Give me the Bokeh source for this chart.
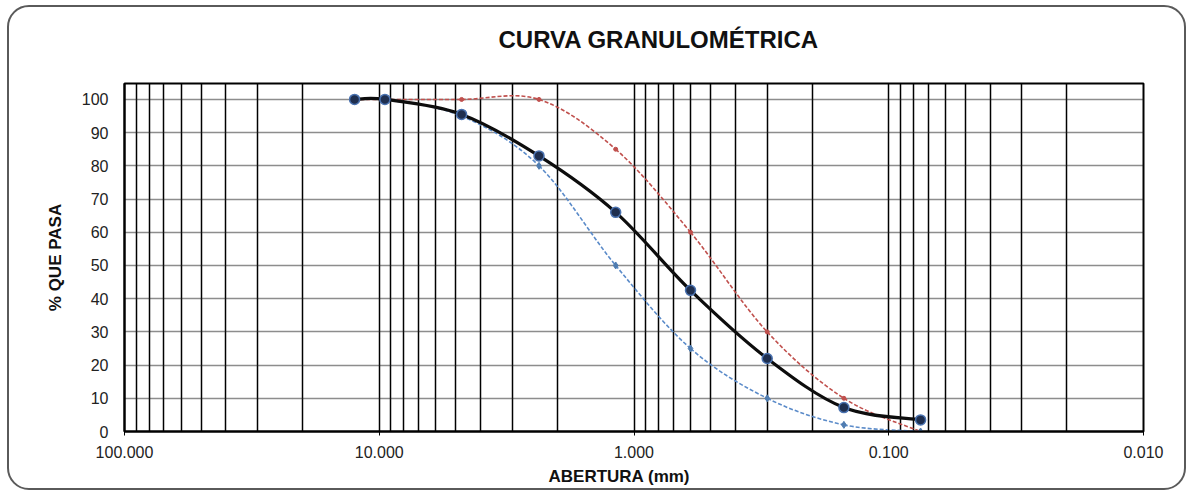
import numpy as np
from bokeh.plotting import figure
from bokeh.models import Range1d, FixedTicker, PrintfTickFormatter, Title, ColumnDataSource
from bokeh.embed import file_html
from bokeh.resources import INLINE

# ---- data ----
abertura_mm = [12.5, 9.5, 4.75, 2.36, 1.18, 0.6, 0.3, 0.15, 0.075]
pasa_muestra = [100, 100, 95.5, 83, 66, 42.5, 22, 7.2, 3.5]
limite_inferior = [100, 100, 95, 80, 50, 25, 10, 2, 0]
limite_superior = [100, 100, 100, 100, 85, 60, 30, 10, 0]
x_tick_values = [100, 10, 1, 0.1, 0.01]
y_tick_values = [0, 10, 20, 30, 40, 50, 60, 70, 80, 90, 100]
x_grid_values = [m * 10.0 ** e for e in range(-2, 2) for m in range(1, 10)] + [100]

FONT = "Liberation Sans"


def smooth_segments(xs, ys):
    """Excel-like smoothed line: cubic Bezier segments (control points in log-x space)."""
    lx = np.log10(np.array(xs, float))
    y = np.array(ys, float)
    P = np.column_stack([lx, y])
    n = len(P)
    out = {k: [] for k in ("x0", "y0", "x1", "y1", "cx0", "cy0", "cx1", "cy1")}
    for i in range(n - 1):
        p0 = P[i - 1] if i > 0 else P[i]
        p1, p2 = P[i], P[i + 1]
        p3 = P[i + 2] if i + 2 < n else P[i + 1]
        c1 = p1 + (p2 - p0) / 6.0
        c2 = p2 - (p3 - p1) / 6.0
        out["x0"].append(10 ** p1[0]); out["y0"].append(p1[1])
        out["x1"].append(10 ** p2[0]); out["y1"].append(p2[1])
        out["cx0"].append(10 ** c1[0]); out["cy0"].append(c1[1])
        out["cx1"].append(10 ** c2[0]); out["cy1"].append(c2[1])
    return ColumnDataSource(out)


p = figure(width=1179, height=485, output_backend="svg", toolbar_location=None,
           x_axis_type="log", x_range=Range1d(100, 0.01), y_range=Range1d(0, 104.8),
           min_border_left=115, min_border_right=45, min_border_top=76, min_border_bottom=61)
p.styles = {"border": "2px solid #5a5a5a", "border-radius": "22px", "overflow": "hidden",
            "background": "white", "margin-left": "7px", "margin-top": "5px"}
p.border_fill_color = None
p.background_fill_color = "white"
p.outline_line_color = "black"
p.outline_line_width = 2

# titles
p.add_layout(Title(text="CURVA GRANULOMÉTRICA\n", align="left", offset=374, standoff=8,
                   text_font=FONT, text_font_size="24px", text_font_style="bold",
                   text_color="#111111"), "above")

# grids
p.xgrid.ticker = FixedTicker(ticks=x_grid_values)
p.xgrid.grid_line_color = "black"
p.xgrid.grid_line_width = 1.5
p.ygrid.ticker = FixedTicker(ticks=y_tick_values)
p.ygrid.grid_line_color = "#1a1a1a"
p.ygrid.grid_line_width = 1.6
p.ygrid.grid_line_dash = "1 1"

# axes
xa = p.xaxis[0]
xa.ticker = FixedTicker(ticks=x_tick_values, minor_ticks=[])
xa.formatter = PrintfTickFormatter(format="%.3f")
xa.major_label_text_font = FONT
xa.major_label_text_font_size = "16px"
xa.major_label_text_color = "#222222"
xa.major_tick_in = 4
xa.major_tick_out = 4
xa.major_tick_line_color = "black"
xa.minor_tick_line_color = None
xa.axis_line_color = "black"
xa.axis_line_width = 2
xa.major_label_standoff = 10

ya = p.yaxis[0]
ya.ticker = FixedTicker(ticks=y_tick_values)
ya.major_label_text_font = FONT
ya.major_label_text_font_size = "16px"
ya.major_label_text_color = "#222222"
ya.major_tick_in = 0
ya.major_tick_out = 0
ya.minor_tick_line_color = None
ya.axis_line_color = "black"
ya.axis_line_width = 2
ya.major_label_standoff = 16
ya.axis_label = "% QUE PASA"
ya.axis_label_text_font = FONT
ya.axis_label_text_font_size = "17px"
ya.axis_label_text_font_style = "bold"
ya.axis_label_text_color = "#111111"
ya.axis_label_standoff = 14

p.add_layout(Title(text="ABERTURA (mm)", align="left", offset=424, standoff=8,
                   text_font=FONT, text_font_size="17px", text_font_style="bold",
                   text_color="#111111"), "below")

# curves
src_sup = smooth_segments(abertura_mm, limite_superior)
src_inf = smooth_segments(abertura_mm, limite_inferior)
src_mue = smooth_segments(abertura_mm, pasa_muestra)

p.bezier(x0="x0", y0="y0", x1="x1", y1="y1", cx0="cx0", cy0="cy0", cx1="cx1", cy1="cy1",
         source=src_sup, line_color="#c0504d", line_width=1.6, line_dash="4 2")
p.scatter(abertura_mm, limite_superior, marker="circle", size=4, fill_color="#c0504d",
          line_color="#c0504d")

p.bezier(x0="x0", y0="y0", x1="x1", y1="y1", cx0="cx0", cy0="cy0", cx1="cx1", cy1="cy1",
         source=src_inf, line_color="#5b8bc9", line_width=1.6, line_dash="4 2")
p.scatter(abertura_mm, limite_inferior, marker="diamond", size=7, fill_color="#4f7cb0",
          line_color="#4f7cb0")

p.bezier(x0="x0", y0="y0", x1="x1", y1="y1", cx0="cx0", cy0="cy0", cx1="cx1", cy1="cy1",
         source=src_mue, line_color="#0d0d0d", line_width=3.2)
p.scatter(abertura_mm, pasa_muestra, marker="circle", size=10, fill_color="#1f2f4f",
          line_color="#4a72b0", line_width=1.5)

open("out.html", "w").write(file_html(p, INLINE))
